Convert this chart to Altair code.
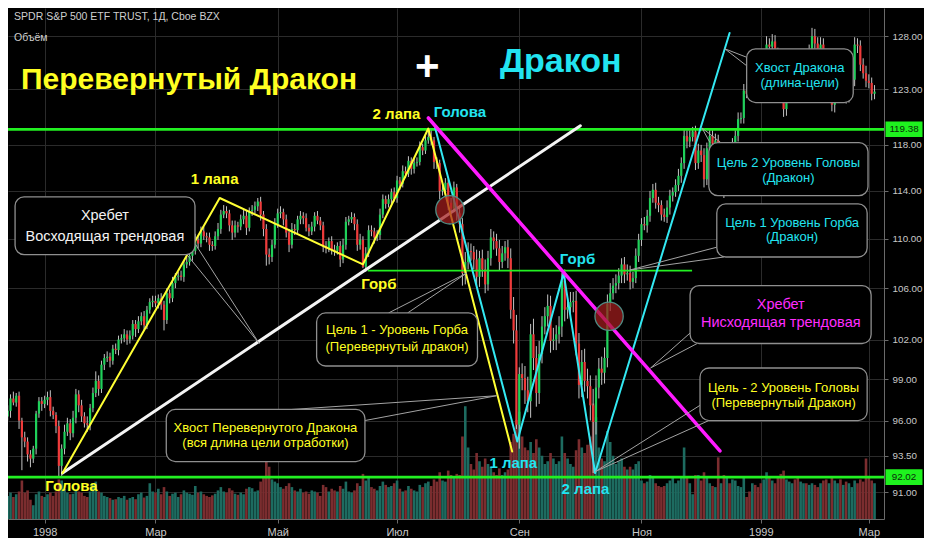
import altair as alt
import pandas as pd

# ---------------- data ----------------
FIRST_BAR = -14          # bar index of the first candle (11 Dec 1997); bar 0 = 2 Jan 1998
FIRST_OPEN = 96.0

close = [
    96.3, 96.7, 97.6, 97.3, 97.8, 96.0, 94.8, 94.5, 93.6, 93.3, 94.0, 96.5, 97.4, 97.2,
    97.5, 97.7, 96.7, 96.4, 95.6, 92.8, 94.0, 95.2, 95.8, 95.1, 96.2, 97.9, 97.1, 96.3, 95.8, 95.7, 96.9, 98.0, 98.9, 98.3,
    100.1, 100.6, 100.7, 100.4, 101.3, 101.2, 102.0, 102.1, 102.4, 102.0, 102.3, 103.2, 102.8, 103.4, 103.8, 103.1, 104.3, 104.9, 105.0,
    104.8, 105.2, 104.7, 103.5, 105.6, 105.2, 106.4, 106.9, 107.0, 106.9, 107.9, 108.1, 108.6, 109.0, 109.9, 109.6, 110.6, 110.2, 110.1, 109.5, 109.4, 110.2,
    110.8, 112.0, 112.3, 112.1, 111.1, 110.5, 111.1, 111.0, 111.6, 111.9, 110.9, 112.3, 112.4, 112.7, 113.1, 112.0, 110.8, 108.7, 108.5, 109.5, 111.2,
    112.1, 112.2, 111.6, 110.5, 109.5, 110.8, 110.7, 111.6, 111.9, 111.7, 110.9, 110.6, 111.0, 111.9, 111.5, 111.1, 109.4, 109.2, 109.8, 109.1,
    109.0, 109.4, 108.3, 109.5, 111.4, 111.6, 111.8, 111.2, 109.5, 109.9, 107.7, 108.8, 110.7, 110.6, 110.1, 110.3, 112.0, 113.3, 112.9, 113.3, 113.9, 113.4,
    114.9, 114.6, 115.7, 115.5, 116.6, 115.9, 116.4, 116.5, 117.8, 117.5, 118.4, 118.7, 118.4, 116.5, 116.4, 114.0, 114.1, 114.7, 113.0, 112.5, 114.3, 112.1,
    111.2, 107.2, 108.1, 109.0, 108.9, 108.3, 106.9, 108.4, 107.5, 106.3, 108.4, 110.1, 109.8, 109.2, 108.1, 108.8, 109.3, 108.4, 104.3, 102.7, 95.7,
    99.4, 99.1, 98.2, 97.4, 102.4, 100.6, 98.0, 100.9, 103.0, 103.8, 104.6, 101.9, 102.0, 102.4, 103.0, 106.6, 104.3, 104.5, 104.9, 105.0, 101.7,
    98.6, 100.3, 98.9, 98.5, 97.1, 95.9, 98.4, 99.8, 99.5, 100.6, 104.8, 105.6, 106.2, 106.4, 107.0, 107.9, 107.1, 107.2, 106.5, 106.8, 108.6, 109.9,
    111.2, 111.1, 111.9, 113.4, 114.1, 113.0, 112.8, 112.0, 111.8, 112.6, 113.6, 113.9, 114.5, 115.3, 116.4, 118.8, 118.3, 118.7, 119.2, 116.4,
    117.5, 117.1, 115.0, 117.7, 118.8, 118.1, 118.4, 116.5, 116.7, 114.1, 116.3, 116.2, 118.0, 118.8, 120.3, 120.4, 122.9, 122.6, 122.5, 124.2, 123.2, 122.9,
    122.8, 124.5, 127.2, 127.0, 127.5, 126.4, 124.0, 123.4, 121.2, 124.3, 125.2, 125.7, 123.5, 122.5, 123.4, 125.2, 124.3, 126.5, 128.0,
    127.3, 126.2, 127.2, 124.9, 123.9, 124.4, 121.6, 122.4, 125.4, 123.0, 124.2, 122.4, 123.7, 123.9, 127.2, 127.1, 125.3, 124.5, 123.8,
    123.6, 122.6, 122.8,
]

# wick lengths beyond the body, in tenths of a point
upper_wick = [
    3, 4, 3, 5, 2, 3, 2, 4, 3, 3, 2, 2, 3, 3,
    3, 4, 5, 3, 2, 4, 3, 5, 4, 3, 5, 4, 3, 4, 3, 5, 3, 4, 7, 4,
    3, 3, 4, 3, 3, 4, 3, 3, 4, 3, 4, 3, 3, 4, 3, 4, 3, 3, 4,
    4, 3, 4, 3, 4, 3, 5, 3, 3, 4, 3, 4, 3, 4, 5, 3, 4, 4, 3, 4, 3, 4,
    5, 4, 5, 4, 3, 4, 4, 3, 4, 5, 4, 3, 4, 4, 3, 4, 3, 4, 5, 4, 5,
    4, 5, 3, 4, 3, 5, 4, 3, 4, 3, 4, 3, 4, 3, 4, 3, 3, 4, 3, 4,
    4, 3, 4, 5, 4, 3, 4, 3, 4, 5, 3, 5, 4, 4, 3, 4, 5, 4, 3, 4, 3, 4,
    4, 3, 5, 4, 4, 3, 4, 4, 5, 3, 4, 5, 7, 3, 4, 3, 5, 4, 3, 4, 5, 3,
    6, 5, 8, 7, 6, 5, 8, 6, 7, 8, 6, 7, 5, 6, 7, 6, 5, 6, 8, 10, 12,
    5, 8, 9, 10, 8, 12, 9, 10, 8, 7, 9, 8, 9, 7, 8, 6, 9, 7, 8, 7, 8,
    8, 9, 10, 9, 8, 12, 9, 8, 9, 8, 7, 8, 6, 7, 6, 5, 6, 7, 6, 5, 6, 5,
    5, 6, 5, 6, 5, 6, 5, 4, 5, 6, 5, 4, 5, 6, 5, 6, 5, 6, 4, 5,
    6, 5, 6, 5, 6, 5, 6, 5, 6, 5, 6, 5, 6, 5, 6, 5, 6, 4, 5, 6, 5, 6,
    6, 7, 8, 6, 7, 6, 5, 6, 7, 8, 6, 7, 6, 5, 6, 7, 6, 7, 8,
    7, 6, 7, 6, 5, 6, 7, 6, 7, 6, 5, 6, 7, 6, 7, 6, 5, 6, 7,
    6, 5, 6,
]
lower_wick = [
    4, 3, 5, 2, 3, 6, 23, 4, 5, 6, 3, 4, 3, 5,
    3, 4, 4, 3, 5, 8, 7, 4, 3, 5, 3, 4, 5, 4, 3, 5, 4, 3, 3, 5,
    3, 4, 3, 5, 3, 3, 4, 3, 3, 4, 3, 3, 6, 3, 3, 4, 3, 3, 4,
    3, 4, 4, 8, 3, 4, 3, 4, 3, 3, 4, 3, 3, 4, 3, 4, 3, 3, 4, 5, 4, 3,
    3, 4, 3, 4, 5, 6, 4, 5, 3, 4, 6, 3, 4, 3, 4, 5, 6, 9, 6, 4, 3,
    3, 4, 5, 4, 6, 3, 4, 3, 4, 5, 3, 4, 3, 4, 3, 4, 5, 4, 3, 4,
    4, 3, 6, 3, 4, 3, 3, 5, 5, 4, 1, 4, 3, 4, 5, 3, 4, 3, 4, 3, 4, 3,
    4, 5, 3, 4, 3, 5, 4, 3, 3, 4, 3, 3, 4, 6, 5, 7, 4, 4, 6, 5, 3, 6,
    7, 10, 9, 6, 7, 8, 7, 8, 6, 7, 5, 6, 7, 6, 7, 5, 6, 8, 7, 10, 3,
    17, 9, 10, 8, 12, 9, 10, 8, 7, 6, 8, 9, 7, 8, 7, 8, 9, 7, 6, 8, 9,
    10, 9, 8, 9, 11, 36, 9, 8, 9, 8, 7, 6, 5, 6, 5, 6, 7, 5, 6, 5, 4, 5,
    5, 4, 6, 5, 4, 5, 6, 5, 4, 5, 6, 5, 4, 5, 6, 5, 6, 5, 4, 6,
    5, 6, 7, 5, 4, 5, 6, 5, 6, 7, 5, 6, 5, 6, 5, 4, 5, 4, 5, 6, 5, 6,
    6, 5, 6, 7, 6, 5, 6, 7, 7, 6, 5, 6, 7, 6, 5, 6, 7, 6, 5,
    6, 7, 6, 5, 6, 7, 6, 7, 6, 5, 6, 7, 6, 5, 6, 7, 6, 5, 6,
    5, 6, 5,
]
# volume, millions of shares
volume = [
    4.5, 4.2, 4.8, 4.0, 4.5, 5.0, 7.0, 4.8, 5.2, 3.5, 2.5, 4.5, 5.0, 4.2,
    4.0, 4.5, 4.8, 4.2, 5.0, 7.2, 7.0, 5.5, 4.8, 4.5, 4.6, 5.2, 5.0, 4.8, 4.2, 4.0, 5.0, 6.5, 6.8, 5.0,
    4.8, 4.2, 4.0, 3.8, 3.5, 3.6, 4.0, 3.8, 4.2, 3.5, 3.8, 4.0, 3.6, 4.5, 4.8, 3.9, 4.2, 6.5, 5.0,
    4.8, 5.5, 4.5, 5.8, 5.0, 4.2, 4.6, 4.8, 4.0, 4.5, 5.2, 4.8, 4.6, 4.4, 6.0, 4.8, 5.0, 4.5, 4.2, 4.0, 4.3, 4.6,
    5.2, 5.8, 5.0, 4.8, 5.6, 5.2, 4.6, 4.4, 4.8, 4.5, 5.5, 5.8, 5.6, 5.0, 5.2, 6.8, 7.5, 10.4, 9.5, 7.2, 6.8,
    6.5, 5.8, 5.5, 6.0, 6.5, 5.8, 5.2, 5.0, 5.5, 4.8, 5.0, 4.6, 5.2, 5.0, 4.8, 4.2, 6.2, 5.8, 5.0, 5.5,
    5.2, 5.0, 6.0, 5.5, 6.8, 5.0, 4.8, 5.2, 6.5, 6.0, 8.2, 7.0, 7.5, 5.8, 5.5, 5.2, 6.0, 6.8, 6.2, 5.8, 6.0, 6.5,
    7.0, 5.5, 5.0, 5.2, 6.0, 5.5, 5.2, 5.0, 6.2, 5.8, 6.5, 6.8, 6.0, 7.2, 6.8, 8.5, 7.0, 6.8, 8.8, 8.0, 7.5, 8.2,
    8.0, 15.0, 20.5, 13.0, 10.0, 9.0, 12.0, 10.5, 9.5, 11.0, 10.0, 9.5, 8.5, 8.0, 9.2, 8.0, 8.5, 9.0, 14.0, 15.5, 18.0,
    19.5, 15.0, 13.0, 12.5, 14.0, 12.0, 14.5, 13.0, 11.5, 10.0, 10.5, 12.0, 11.0, 10.0, 10.5, 15.0, 12.0, 11.0, 10.0, 9.5, 12.5,
    14.5, 13.0, 12.0, 13.5, 15.0, 21.0, 18.5, 13.0, 11.0, 10.5, 16.0, 14.0, 11.5, 10.0, 10.5, 11.0, 9.5, 9.0, 9.5, 9.0, 10.0, 10.5,
    7.0, 6.5, 6.8, 8.0, 7.5, 6.5, 6.0, 5.8, 6.0, 6.5, 7.0, 7.5, 6.5, 7.0, 7.5, 13.0, 7.5, 6.5, 4.5, 8.0,
    8.0, 7.0, 8.5, 7.5, 6.5, 6.0, 5.8, 11.2, 6.5, 8.0, 7.5, 6.5, 7.2, 7.0, 6.0, 5.8, 7.5, 4.0, 5.0, 6.5, 6.2, 5.8,
    6.5, 7.2, 8.5, 7.5, 7.0, 6.5, 7.5, 8.2, 8.8, 7.2, 6.8, 6.5, 7.2, 7.5, 6.8, 6.5, 6.5, 6.2, 6.5,
    6.2, 5.8, 6.5, 7.0, 7.2, 6.5, 7.5, 7.0, 6.5, 7.2, 6.2, 6.8, 6.5, 5.8, 7.0, 6.5, 7.2, 6.8, 11.0,
    7.5, 7.0, 6.5,
]

month_ticks = [0, 39, 82, 124, 167, 210, 252, 290]
month_labels = ["1998", "Мар", "Май", "Июл", "Сен", "Ноя", "1999", "Мар"]
price_ticks = [91, 93.5, 96, 99, 102, 106, 110, 114, 118, 123, 128]
x_domain = [-11.13, 293.57]
y_domain = [89.18, 130.73]
vol_domain = [0, 92.9]

level_prices = [119.38, 92.02]
level_labels = ["119.38", "92.02"]
hump_price = 107.4
hump_from, hump_to = 113.7, 227.8

# pattern paths: (bar index, price)
inv_dragon_path = [(6.3, 92.3), (61.6, 113.4), (112.0, 107.9), (135.0, 119.45), (164.5, 93.8)]
dragon_path = [(137.4, 119.5), (166.3, 94.5), (182.6, 107.2), (193.7, 92.3), (241.0, 128.3)]
rising_spine = [(6.3, 92.3), (188.5, 119.7)]
falling_spine = [(135.0, 120.4), (237.6, 93.84)]
cross_points = [(142.6, 112.4), (198.6, 103.8)]

# callouts: box (left, right, top, bottom), centre, two text lines with their prices, tone, tail tip, tail bases
callouts = [
    dict(box=(-10.4, 52.9, 113.5, 108.7), cx=21.2, lines=[("Хребет", 111.9), ("Восходящая трендовая", 110.1)],
         tone="white", big=True, tip=(75.5, 101.7), bases=[(50.4, 108.6), (52.9, 109.6)]),
    dict(box=(95.7, 152.3, 104.05, 100.0), cx=124.0, lines=[("Цель 1 - Уровень Горба", 102.7), ("(Перевернутый дракон)", 101.4)],
         tone="yellow", big=False, tip=(148.5, 107.2), bases=[(121.0, 104.05), (127.7, 104.05)]),
    dict(box=(42.8, 112.7, 96.8, 93.1), cx=77.7, lines=[("Хвост Перевернутого Дракона", 95.5), ("(вся длина цели отработки)", 94.4)],
         tone="yellow", big=False, tip=(159.0, 97.8), bases=[(87.0, 96.8), (112.7, 96.0)]),
    dict(box=(247.0, 284.5, 126.8, 121.8), cx=265.7, lines=[("Хвост Дракона", 125.0), ("(длина-цели)", 123.6)],
         tone="cyan", big=False, tip=(239.3, 126.8), bases=[(247.0, 126.0), (247.0, 125.2)]),
    dict(box=(233.7, 289.7, 118.2, 113.6), cx=261.7, lines=[("Цель 2 Уровень Головы", 116.4), ("(Дракон)", 115.1)],
         tone="cyan", big=False, tip=(231.3, 119.5), bases=[(234.1, 118.2), (237.9, 118.2)]),
    dict(box=(236.5, 289.4, 112.9, 108.5), cx=263.0, lines=[("Цель 1 Уровень Горба", 111.3), ("(Дракон)", 110.1)],
         tone="cyan", big=False, tip=(205.9, 107.45), bases=[(236.5, 109.3), (239.0, 108.5)]),
    dict(box=(227.1, 290.8, 106.2, 101.7), cx=259.0, lines=[("Хребет", 104.7), ("Нисходящая трендовая", 103.3)],
         tone="magenta", big=True, tip=(213.2, 99.85), bases=[(227.1, 102.5), (229.6, 101.7)]),
    dict(box=(230.6, 289.4, 99.85, 96.0), cx=260.0, lines=[("Цель - 2 Уровень Головы", 98.4), ("(Перевернутый Дракон)", 97.3)],
         tone="yellow", big=False, tip=(193.7, 92.4), bases=[(230.6, 97.1), (233.7, 96.0)]),
]

point_labels = [
    ("Голова", 9.4, 91.4, "yellow"), ("2 лапа", 123.8, 120.8, "yellow"), ("Голова", 146.1, 120.9, "cyan"),
    ("1 лапа", 59.8, 115.0, "yellow"), ("Горб", 117.6, 106.3, "yellow"), ("Горб", 187.5, 108.3, "cyan"),
    ("1 лапа", 164.9, 93.0, "cyan"), ("2 лапа", 190.3, 91.2, "cyan"),
]
headline_labels = [("Перевернутый Дракон", 50.8, 123.9, "yellow", 30), ("Дракон", 181.6, 125.55, "cyan", 34)]
plus_label = ("+", 134.6, 125.1)
legend_lines = [("SPDR S&P 500 ETF TRUST, 1Д, Cboe BZX", -11.1, 129.85), ("Объём", -11.1, 127.8)]

# ---------------- styles ----------------
TONE = {"yellow": "#ffff22", "cyan": "#22e4f0", "white": "#f2f2f2", "magenta": "#ff2cff"}
LINE_TONE = {"yellow": "#ffff33", "cyan": "#33e8f2", "white": "#f4f4f4", "magenta": "#ff1aff"}
GREEN = "#22f022"
FONT = "Liberation Sans, Arial, sans-serif"
W, H = 876, 511

n = len(close)
assert len(upper_wick) == n and len(lower_wick) == n and len(volume) == n, (n, len(upper_wick), len(lower_wick), len(volume))
opens = [FIRST_OPEN] + close[:-1]
bars = pd.DataFrame({
    "idx": [FIRST_BAR + i for i in range(n)],
    "open": opens,
    "close": close,
    "high": [max(o, c) + u / 10 for o, c, u in zip(opens, close, upper_wick)],
    "low": [min(o, c) - l / 10 for o, c, l in zip(opens, close, lower_wick)],
    "vol": volume,
})
bars["up"] = bars["close"] >= bars["open"]
bars["body"] = bars["up"].map({True: "#1fd05a", False: "#f03a3a"})
bars["vcol"] = bars["up"].map({True: "#1d6b60", False: "#7b2d2f"})

label_expr = "''"
for t, l in reversed(list(zip(month_ticks, month_labels))):
    label_expr = f"datum.value == {t} ? '{l}' : ({label_expr})"

x_scale = alt.Scale(domain=x_domain, nice=False, zero=False)
y_scale = alt.Scale(type="log", domain=y_domain, nice=False, zero=False)
x_axis = alt.Axis(values=month_ticks, labelExpr=label_expr, grid=True, gridColor="#2b2b2b", gridWidth=1,
                  domainColor="#6a6a6a", tickColor="#6a6a6a", tickSize=4, labelColor="#c8c8c8",
                  labelFont=FONT, labelFontSize=11, labelPadding=3, title=None, labelFlush=False)
y_axis = alt.Axis(orient="right", values=price_ticks, format=".2f", grid=True, gridColor="#2b2b2b", gridWidth=1,
                  domainColor="#6a6a6a", tickColor="#6a6a6a", tickSize=4, labelColor="#c8c8c8",
                  labelFont=FONT, labelFontSize=9.8, labelPadding=4, title=None, labelFlush=False,
                  labelOverlap=False)


def X(f):
    return alt.X(f, type="quantitative", scale=x_scale, axis=x_axis)


def Y(f):
    return alt.Y(f, type="quantitative", scale=y_scale, axis=y_axis)


vol_chart = alt.Chart(bars).mark_bar(size=2.6, clip=True).encode(
    x=X("idx"),
    y=alt.Y("vol", type="quantitative", scale=alt.Scale(domain=vol_domain, nice=False), axis=None),
    color=alt.Color("vcol:N", scale=None),
)

wicks = alt.Chart(bars).mark_rule(color="#c4c4c4", strokeWidth=1, clip=True).encode(
    x=X("idx"), y=Y("low"), y2=alt.Y2("high"))
bodies = alt.Chart(bars).mark_bar(size=2.2, clip=True).encode(
    x=X("idx"), y=Y("open"), y2=alt.Y2("close"), color=alt.Color("body:N", scale=None))

levels = alt.Chart(pd.DataFrame({"price": level_prices})).mark_rule(color=GREEN, strokeWidth=2.6).encode(y=Y("price"))
hump = alt.Chart(pd.DataFrame({"a": [hump_from], "b": [hump_to], "p": [hump_price]})).mark_rule(
    color=GREEN, strokeWidth=1.6).encode(x=X("a"), x2=alt.X2("b"), y=Y("p"))


def path_layer(pts, color, width):
    df = pd.DataFrame({"k": list(range(len(pts))), "i": [p[0] for p in pts], "p": [p[1] for p in pts]})
    return alt.Chart(df).mark_line(color=color, strokeWidth=width, strokeCap="round", strokeJoin="round").encode(
        x=X("i"), y=Y("p"), order="k:Q")


paths = [
    path_layer(rising_spine, LINE_TONE["white"], 3),
    path_layer(inv_dragon_path, LINE_TONE["yellow"], 2),
    path_layer(dragon_path, LINE_TONE["cyan"], 2),
    path_layer(falling_spine, LINE_TONE["magenta"], 3.5),
]

circles = alt.Chart(pd.DataFrame({"i": [c[0] for c in cross_points], "p": [c[1] for c in cross_points]})).mark_point(
    shape="circle", filled=True, size=800, fill="#a31d1d", fillOpacity=0.72, stroke="#4f8c84",
    strokeWidth=1.3, strokeOpacity=1).encode(x=X("i"), y=Y("p"))

tail_rows, box_rows, text_rows = [], [], []
for c in callouts:
    for b in c["bases"]:
        tail_rows.append({"x1": c["tip"][0], "y1": c["tip"][1], "x2": b[0], "y2": b[1]})
    l, r, t, btm = c["box"]
    box_rows.append({"x1": l, "x2": r, "top": t, "bottom": btm})
    for txt, pr in c["lines"]:
        text_rows.append({"i": c["cx"], "p": pr, "text": txt, "color": TONE[c["tone"]], "fs": 14.5 if c["big"] else 13})

tails = alt.Chart(pd.DataFrame(tail_rows)).mark_rule(color="#a3a3a3", strokeWidth=1).encode(
    x=X("x1"), x2=alt.X2("x2"), y=Y("y1"), y2=alt.Y2("y2"))
boxes = alt.Chart(pd.DataFrame(box_rows)).mark_rect(cornerRadius=9, fill="#000000", stroke="#8f8f8f",
                                                      strokeWidth=1.3).encode(
    x=X("x1"), x2=alt.X2("x2"), y=Y("top"), y2=alt.Y2("bottom"))
box_text = alt.Chart(pd.DataFrame(text_rows)).mark_text(font=FONT, align="center", baseline="middle").encode(
    x=X("i"), y=Y("p"), text="text:N", color=alt.Color("color:N", scale=None), size=alt.Size("fs:Q", scale=None))

pl = pd.DataFrame({"text": [a[0] for a in point_labels], "i": [a[1] for a in point_labels],
                   "p": [a[2] for a in point_labels], "color": [TONE[a[3]] for a in point_labels]})
point_text = alt.Chart(pl).mark_text(font=FONT, fontWeight="bold", fontSize=15, align="center",
                                     baseline="middle").encode(
    x=X("i"), y=Y("p"), text="text:N", color=alt.Color("color:N", scale=None))

hl = pd.DataFrame({"text": [a[0] for a in headline_labels], "i": [a[1] for a in headline_labels],
                   "p": [a[2] for a in headline_labels], "color": [TONE[a[3]] for a in headline_labels],
                   "fs": [a[4] for a in headline_labels]})
headlines = alt.Chart(hl).mark_text(font=FONT, fontWeight="bold", align="center", baseline="middle").encode(
    x=X("i"), y=Y("p"), text="text:N", color=alt.Color("color:N", scale=None), size=alt.Size("fs:Q", scale=None))
plus = alt.Chart(pd.DataFrame({"text": [plus_label[0]], "i": [plus_label[1]], "p": [plus_label[2]]})).mark_text(
    font=FONT, fontWeight="bold", fontSize=42, color="#ffffff", align="center", baseline="middle").encode(
    x=X("i"), y=Y("p"), text="text:N")

legend = alt.Chart(pd.DataFrame({"text": [a[0] for a in legend_lines], "i": [a[1] for a in legend_lines],
                                 "p": [a[2] for a in legend_lines]})).mark_text(
    font=FONT, fontSize=10.5, color="#cfcfcf", align="left", baseline="middle", dx=1).encode(
    x=X("i"), y=Y("p"), text="text:N")

tag_df = pd.DataFrame({"p": level_prices, "text": level_labels})
tag_box = alt.Chart(tag_df).mark_point(
    shape="M-1,-0.42L1,-0.42L1,0.42L-1,0.42Z", size=1369, filled=True, fill="#1ef21e", fillOpacity=1,
    x={"expr": "width + 20"}).encode(y=Y("p"))
tag_text = alt.Chart(tag_df).mark_text(font=FONT, fontSize=9.8, color="#0a2a0a", align="center",
                                       baseline="middle", x={"expr": "width + 20"}).encode(y=Y("p"), text="text:N")

price_layer = alt.layer(wicks, bodies, levels, hump, *paths, circles, tails, boxes, box_text,
                        point_text, headlines, plus, legend, tag_box, tag_text)

chart = alt.layer(vol_chart, price_layer).resolve_scale(y="independent").properties(
    width=W, height=H, background="#000000",
    autosize=alt.AutoSizeParams(type="none"),
    padding={"left": 0, "top": 0, "right": 40, "bottom": 19},
).configure_view(strokeWidth=0)

chart.save("out.html", embed_options={"renderer": "svg", "actions": False})
